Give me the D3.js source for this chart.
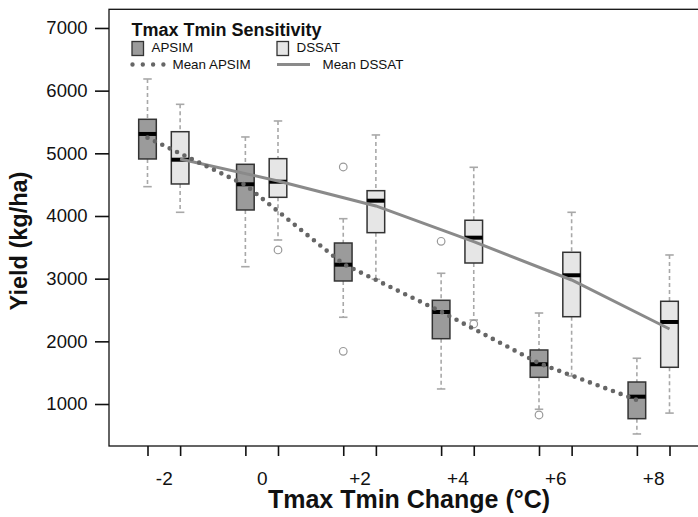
<!DOCTYPE html>
<html>
<head>
<meta charset="utf-8">
<script src="https://cdn.jsdelivr.net/npm/d3@7/dist/d3.min.js"></script>
<style>
  body { margin: 0; background: #fff; }
  text { font-family: "Liberation Sans", Arial, Helvetica, sans-serif; fill: #111; }
</style>
</head>
<body>
<div class="chart"></div>
<script>
var changeLabels = ["-2", "0", "+2", "+4", "+6", "+8"];
var models = ["APSIM", "DSSAT"];

// [lower whisker, q1, median, q3, upper whisker]
var apsimStats = [
  [4468, 4910, 5309, 5543, 6186],
  [3191, 4096, 4506, 4825, 5261],
  [2384, 2963, 3223, 3569, 3957],
  [1240, 2042, 2468, 2655, 3086],
  [916, 1426, 1634, 1862, 2452],
  [522, 766, 1117, 1351, 1730]
];
var dssatStats = [
  [4059, 4511, 4898, 5345, 5782],
  [3617, 4298, 4547, 4915, 5516],
  [2990, 3734, 4244, 4404, 5293],
  [2341, 3250, 3654, 3932, 4777],
  [1447, 2393, 3054, 3421, 4059],
  [855, 1586, 2309, 2639, 3378]
];
var apsimOutliers = [[], [], [4782, 1841], [3596], [825], []];
var dssatOutliers = [[], [3458], [], [2277], [], []];
var apsimMean = [5250, 4495, 3234, 2473, 1650, 1064];
var dssatMean = [4910, 4559, 4160, 3590, 2979, 2197];
var yTicks = [1000, 2000, 3000, 4000, 5000, 6000, 7000];

var width = 698, height = 517;
var plotLeft = 109, plotRight = 708, plotTop = 9.3, plotBottom = 446;

var svg = d3.select(".chart").append("svg")
    .attr("width", width)
    .attr("height", height);

// boxes sit at 1,2  4,5  7,8 ... like R boxplot(at=)
var pos = function(g, m) { return g * 3 + 1 + m; };

var x = d3.scaleLinear().domain([-0.18, 18.18]).range([plotLeft, plotRight]);
var y = d3.scaleLinear().domain([330, 7298]).range([plotBottom, plotTop]);

var boxes = [];
changeLabels.forEach(function(lab, i) {
  boxes.push({ p: pos(i, 0), s: apsimStats[i], out: apsimOutliers[i], fill: "#9b9b9b" });
  boxes.push({ p: pos(i, 1), s: dssatStats[i], out: dssatOutliers[i], fill: "#e6e6e6" });
});

var hw = 0.27, cw = 0.13;

var g = svg.selectAll("g.box")
    .data(boxes).enter()
    .append("g")
    .attr("class", "box");

g.append("line")
    .attr("x1", function(d) { return x(d.p); })
    .attr("x2", function(d) { return x(d.p); })
    .attr("y1", function(d) { return y(d.s[4]); })
    .attr("y2", function(d) { return y(d.s[3]); })
    .style("stroke", "#a8a8a8").style("stroke-width", 1.6).style("stroke-dasharray", "4,3");
g.append("line")
    .attr("x1", function(d) { return x(d.p); })
    .attr("x2", function(d) { return x(d.p); })
    .attr("y1", function(d) { return y(d.s[1]); })
    .attr("y2", function(d) { return y(d.s[0]); })
    .style("stroke", "#a8a8a8").style("stroke-width", 1.6).style("stroke-dasharray", "4,3");

[0, 4].forEach(function(k) {
  g.append("line")
      .attr("x1", function(d) { return x(d.p - cw); })
      .attr("x2", function(d) { return x(d.p + cw); })
      .attr("y1", function(d) { return y(d.s[k]); })
      .attr("y2", function(d) { return y(d.s[k]); })
      .style("stroke", "#a8a8a8").style("stroke-width", 1.6);
});

g.append("rect")
    .attr("x", function(d) { return x(d.p - hw); })
    .attr("width", function(d) { return x(d.p + hw) - x(d.p - hw); })
    .attr("y", function(d) { return y(d.s[3]); })
    .attr("height", function(d) { return y(d.s[1]) - y(d.s[3]); })
    .style("fill", function(d) { return d.fill; })
    .style("stroke", "#333").style("stroke-width", 1.5);

g.append("line")
    .attr("x1", function(d) { return x(d.p - hw); })
    .attr("x2", function(d) { return x(d.p + hw); })
    .attr("y1", function(d) { return y(d.s[2]); })
    .attr("y2", function(d) { return y(d.s[2]); })
    .style("stroke", "#000").style("stroke-width", 4);

g.selectAll("circle")
    .data(function(d) { return d.out.map(function(v) { return { p: d.p, v: v }; }); })
    .enter().append("circle")
    .attr("cx", function(d) { return x(d.p); })
    .attr("cy", function(d) { return y(d.v); })
    .attr("r", 3.8)
    .style("fill", "none").style("stroke", "#999").style("stroke-width", 1.2);

// mean lines
var meanLine = d3.line()
    .x(function(d) { return x(d.p); })
    .y(function(d) { return y(d.v); });

svg.append("path")
    .datum(dssatMean.map(function(v, i) { return { p: pos(i, 1), v: v }; }))
    .attr("d", meanLine)
    .style("fill", "none").style("stroke", "#8a8a8a").style("stroke-width", 3);

svg.append("path")
    .datum(apsimMean.map(function(v, i) { return { p: pos(i, 0), v: v }; }))
    .attr("d", meanLine)
    .style("fill", "none").style("stroke", "#666").style("stroke-width", 4.6)
    .style("stroke-linecap", "round").style("stroke-dasharray", "0,8.2");

// frame
svg.append("rect")
    .attr("x", plotLeft).attr("y", plotTop)
    .attr("width", plotRight - plotLeft).attr("height", plotBottom - plotTop)
    .style("fill", "none").style("stroke", "#111").style("stroke-width", 1.3);

// axes
var tickPos = [];
changeLabels.forEach(function(lab, i) { tickPos.push(pos(i, 0), pos(i, 1)); });

var xAxis = svg.append("g")
    .attr("transform", "translate(0," + plotBottom + ")")
    .call(d3.axisBottom(x).tickValues(tickPos).tickSize(10).tickFormat(""));
xAxis.select(".domain").remove();
xAxis.selectAll("line").style("stroke", "#111").style("stroke-width", 1.6);

var xLab = svg.append("g")
    .attr("transform", "translate(0," + plotBottom + ")")
    .call(d3.axisBottom(x)
      .tickValues(changeLabels.map(function(l, i) { return pos(i, 0) + 0.5; }))
      .tickSize(0).tickPadding(25.5)
      .tickFormat(function(d, i) { return changeLabels[i]; }));
xLab.select(".domain").remove();
xLab.selectAll("text").style("font-size", "19px").style("fill", "#111");

var yAxis = svg.append("g")
    .attr("transform", "translate(" + plotLeft + ",0)")
    .call(d3.axisLeft(y).tickValues(yTicks).tickSize(14).tickPadding(7.5).tickFormat(d3.format("d")));
yAxis.select(".domain").remove();
yAxis.selectAll("line").style("stroke", "#111").style("stroke-width", 1.6);
yAxis.selectAll("text").style("font-size", "18.5px").style("fill", "#111");

svg.append("text")
    .attr("x", 409).attr("y", 508)
    .attr("text-anchor", "middle")
    .style("font-size", "25px").style("font-weight", "bold")
    .text("Tmax Tmin Change (°C)");

svg.append("text")
    .attr("transform", "translate(26.5,241) rotate(-90)")
    .attr("text-anchor", "middle")
    .style("font-size", "23.5px").style("font-weight", "bold")
    .text("Yield (kg/ha)");

// legend
var lg = svg.append("g");
lg.append("text")
    .attr("x", 131.5).attr("y", 35.5)
    .style("font-size", "18px").style("font-weight", "bold")
    .text("Tmax Tmin Sensitivity");

var legendX = [132, 277];
var legendFill = ["#9b9b9b", "#e6e6e6"];
models.forEach(function(m, i) {
  lg.append("rect")
      .attr("x", legendX[i]).attr("y", 41.5)
      .attr("width", 11.5).attr("height", 14)
      .style("fill", legendFill[i]).style("stroke", "#333").style("stroke-width", 1.3);
  lg.append("text")
      .attr("x", legendX[i] + 19.5).attr("y", 52)
      .style("font-size", "13.4px")
      .text(m);
  lg.append("text")
      .attr("x", i === 0 ? 172.5 : 322.5).attr("y", 69)
      .style("font-size", "13.4px")
      .text("Mean " + m);
});
lg.append("line")
    .attr("x1", 132.5).attr("x2", 164).attr("y1", 64.5).attr("y2", 64.5)
    .style("stroke", "#666").style("stroke-width", 4.4)
    .style("stroke-linecap", "round").style("stroke-dasharray", "0,10.3");
lg.append("line")
    .attr("x1", 277).attr("x2", 310).attr("y1", 64.5).attr("y2", 64.5)
    .style("stroke", "#8a8a8a").style("stroke-width", 3);
</script>
</body>
</html>
